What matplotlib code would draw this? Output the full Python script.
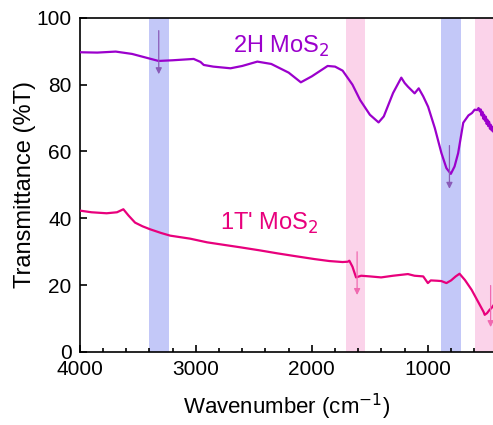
import numpy as np
import matplotlib.pyplot as plt
from matplotlib.ticker import MultipleLocator

plt.rcParams['font.family'] = ['Liberation Sans', 'DejaVu Sans']

# 2H MoS2 spectrum (wavenumber, %T)
wn_2h = [4000, 3850, 3691, 3550, 3420, 3322, 3200, 3019, 2960, 2932, 2850, 2701,
         2600, 2470, 2350, 2200, 2095, 2000, 1864, 1800, 1735, 1650, 1584, 1500,
         1425, 1380, 1300, 1229, 1200, 1172, 1114, 1079, 1040, 998, 940, 883, 840,
         802, 770, 739, 695, 650, 620, 597, 575, 563, 552, 545, 538, 530, 522, 515,
         508, 500, 493, 487, 480, 472, 465, 458, 450, 443, 436, 433]
t_2h = [89.7, 89.6, 89.9, 89.2, 88.0, 87.1, 87.3, 87.7, 86.8, 85.9, 85.4, 84.9,
        85.6, 86.9, 86.2, 83.6, 80.7, 82.5, 85.6, 85.4, 84.2, 80.0, 75.4, 71.0,
        68.7, 70.5, 77.5, 82.1, 80.5, 79.4, 77.4, 78.9, 76.5, 73.4, 67.0, 59.5, 55.0,
        53.3, 55.5, 59.5, 68.6, 70.8, 71.5, 72.5, 72.4, 73.0, 72.0, 72.6, 70.8, 71.9,
        69.8, 71.0, 69.2, 70.4, 68.2, 69.5, 67.6, 68.9, 66.8, 68.0, 66.3, 67.4, 65.9,
        66.5]

# 1T' MoS2 spectrum (wavenumber, %T)
wn_1t = [4000, 3900, 3769, 3680, 3625, 3580, 3524, 3460, 3394, 3300, 3221, 3050,
         2903, 2750, 2615, 2450, 2297, 2150, 1980, 1850, 1735, 1690, 1677, 1650,
         1619, 1575, 1500, 1403, 1300, 1172, 1115, 1040, 1000, 975, 920, 883, 840,
         800, 760, 727, 680, 623, 570, 520, 510, 490, 468, 450, 433]
t_1t = [42.3, 41.8, 41.5, 41.8, 42.7, 40.8, 38.7, 37.6, 36.7, 35.6, 34.8, 33.9,
        32.8, 32.0, 31.3, 30.4, 29.5, 28.7, 27.8, 27.2, 26.9, 27.0, 27.3, 25.5,
        22.3, 22.8, 22.6, 22.3, 22.8, 23.3, 22.8, 22.6, 20.6, 21.4, 21.3, 21.2, 20.6,
        21.4, 22.6, 23.4, 21.5, 18.6, 15.2, 12.0, 11.1, 11.6, 12.6, 13.2, 14.0]

blue_bands = [(3400, 3230), (890, 715)]
pink_bands = [(1710, 1540), (595, 380)]

# arrows: (wavenumber, y_start, y_end)
arrows_2h = [(3320, 97.0, 82.3), (814, 62.6, 48.0)]
arrows_1t = [(1610, 30.8, 16.2), (459, 20.7, 6.6)]

c2h = '#9B00CC'
c1t = '#E8007C'

fig = plt.figure(figsize=(4.93, 4.25), dpi=100)
ax = fig.add_axes([0.162, 0.172, 0.84, 0.786])

for a, b in blue_bands:
    ax.axvspan(a, b, color='#C3C8F8', lw=0, zorder=0)
for a, b in pink_bands:
    ax.axvspan(a, b, color='#FBD3EA', lw=0, zorder=0)

ax.plot(wn_2h, t_2h, color=c2h, lw=1.6, zorder=3)
ax.plot(wn_1t, t_1t, color=c1t, lw=1.6, zorder=3)

for x, y0, y1 in arrows_2h:
    ax.annotate('', xy=(x, y1), xytext=(x, y0),
                arrowprops=dict(arrowstyle='-|>', color='#8A5AB8', lw=0.9,
                                mutation_scale=9), zorder=4)
for x, y0, y1 in arrows_1t:
    ax.annotate('', xy=(x, y1), xytext=(x, y0),
                arrowprops=dict(arrowstyle='-|>', color='#F06AB0', lw=0.9,
                                mutation_scale=9), zorder=4)

ax.text(2268, 91.5, r'2H MoS$_2$', color=c2h, fontsize=17, ha='center', va='center')
ax.text(2372, 38.6, r"1T' MoS$_2$", color=c1t, fontsize=17, ha='center', va='center')

ax.set_xlim(4000, 430)
ax.set_ylim(0, 100)
ax.xaxis.set_major_locator(MultipleLocator(1000))
ax.xaxis.set_minor_locator(MultipleLocator(200))
ax.yaxis.set_major_locator(MultipleLocator(20))
ax.tick_params(which='both', direction='in', labelsize=15, top=False, right=False)
ax.tick_params(axis='y', pad=6)
ax.tick_params(axis='x', pad=6)
ax.tick_params(which='major', length=5, width=1.2)
ax.tick_params(which='minor', length=3, width=1.2)
for s in ax.spines.values():
    s.set_linewidth(1.2)

ax.set_xlabel('Wavenumber (cm$^{-1}$)', fontsize=16, labelpad=9)
ax.set_ylabel('Transmittance (%T)', fontsize=17, labelpad=0)

fig.savefig('out.png', dpi=100)
